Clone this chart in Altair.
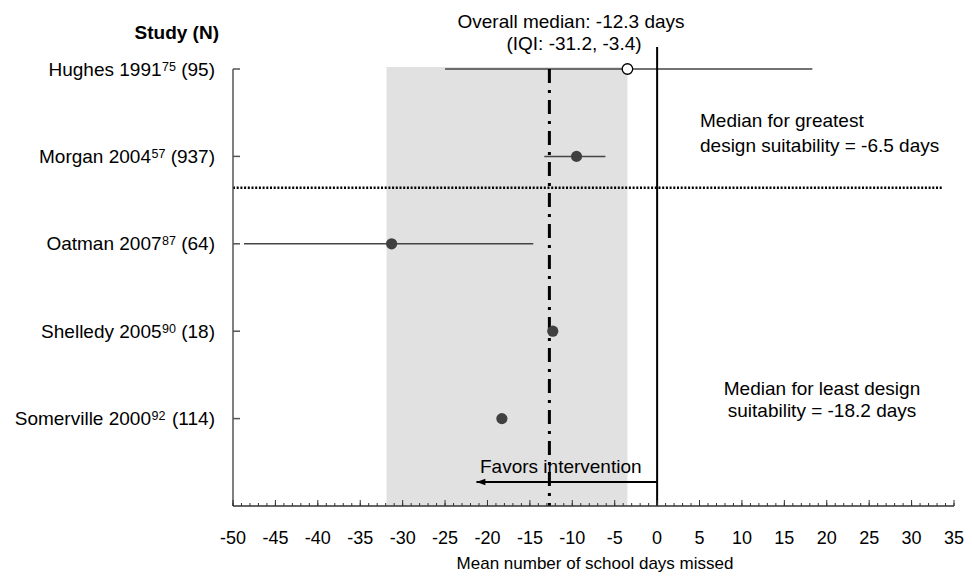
import altair as alt
import pandas as pd

# ---- data ----
names = ["Hughes 1991", "Morgan 2004", "Oatman 2007", "Shelledy 2005", "Somerville 2000"]
refs = ["75", "57", "87", "90", "92"]
ns = ["95", "937", "64", "18", "114"]
rows = [0, 1, 2, 3, 4]
means = [-3.5, -9.5, -31.3, -12.3, -18.3]
ci_lo = [-25.0, -13.3, -48.7, None, None]
ci_hi = [18.3, -6.1, -14.6, None, None]
markers = ["open", "filled", "filled", "filled", "filled"]

overall_median = -12.7
iqi_lo = [-31.9]
iqi_hi = [-3.5]
separator_row = 1.36
arrow_end = -21.3
dotted_end = 33.6
major_ticks = list(range(-50, 36, 5))
tick_labels = ["-50", "-45", "-40", "-35", "-30", "-25", "-20", "-15", "-10", "-5",
               "0", "5", "10", "15", "20", "25", "30", "35"]
minor_ticks = list(range(-50, 36))

FONT = "Liberation Sans"
W, H = 721, 437
LABEL_SIZE, SUP_SIZE = 19, 12.5

# Arial / Liberation Sans advance widths (1/1000 em) used to place superscripts
AW = {' ': 278, '(': 333, ')': 333, 'H': 722, 'M': 833, 'O': 778, 'S': 667,
      'a': 556, 'd': 556, 'e': 556, 'g': 556, 'h': 556, 'i': 222, 'l': 222,
      'm': 833, 'n': 556, 'o': 556, 'r': 333, 's': 500, 't': 278, 'u': 556,
      'v': 500, 'y': 500}
for _d in "0123456789":
    AW[_d] = 556


def tw(s, size):
    return sum(AW.get(c, 556) for c in s) / 1000 * size


tails = [" (" + n + ")" for n in ns]
x_tail = [-18 for _ in tails]
x_sup = [-18 - tw(t, LABEL_SIZE) for t in tails]
x_base = [xs_ - tw(r, SUP_SIZE) - 0.5 for xs_, r in zip(x_sup, refs)]

df = pd.DataFrame({"name": names, "ref": refs, "tail": tails, "row": rows,
                   "mean": means, "lo": ci_lo, "hi": ci_hi, "marker": markers,
                   "x_tail": x_tail, "x_sup": x_sup, "x_base": x_base})
shade_df = pd.DataFrame({"lo": iqi_lo, "hi": iqi_hi})
minor_df = pd.DataFrame({"t": minor_ticks})
major_df = pd.DataFrame({"t": major_ticks, "label": tick_labels})
one = pd.DataFrame({"k": [0]})

xs = alt.Scale(domain=[-50, 35], nice=False, zero=False)
ys = alt.Scale(domain=[5, 0], nice=False, zero=False)
X = lambda f: alt.X(f, scale=xs, axis=None)
Y = lambda f: alt.Y(f, scale=ys, axis=None)

shade = alt.Chart(shade_df).mark_rect(color="#e1e1e1").encode(
    x=X("lo:Q"), x2="hi:Q", y=alt.value(-2), y2=alt.value(H))

# axes lines
y_domain = alt.Chart(one).mark_rule(color="#555555", strokeWidth=1.5).encode(
    x=alt.value(0), y=alt.value(0), y2=alt.value(H))
x_domain = alt.Chart(one).mark_rule(color="#333333", strokeWidth=1.5).encode(
    x=alt.value(0), x2=alt.value(W), y=alt.value(H))
yticks = alt.Chart(df).mark_rule(color="#555555", strokeWidth=1.5).encode(
    y=Y("row:Q"), x=alt.value(0), x2=alt.value(7))
minor = alt.Chart(minor_df).mark_rule(color="#333333", strokeWidth=1).encode(
    x=X("t:Q"), y=alt.value(H), y2=alt.value(H - 3))
major = alt.Chart(major_df).mark_rule(color="#333333", strokeWidth=1).encode(
    x=X("t:Q"), y=alt.value(H), y2=alt.value(H - 6))
xlabels = alt.Chart(major_df).mark_text(align="center", baseline="alphabetic",
                                        font=FONT, fontSize=18, color="black").encode(
    x=X("t:Q"), y=alt.value(H + 37.5), text="label:N")

ci = alt.Chart(df).transform_filter("isValid(datum.lo)").mark_rule(
    color="#444444", strokeWidth=1.5).encode(x=X("lo:Q"), x2="hi:Q", y=Y("row:Q"))

sep = alt.Chart(one).mark_rule(color="black", strokeWidth=2.5, strokeDash=[2, 1.7]).encode(
    x=alt.datum(-50, scale=xs, axis=None), x2=alt.datum(dotted_end),
    y=alt.datum(separator_row, scale=ys, axis=None))

median = alt.Chart(one).mark_rule(color="black", strokeWidth=3,
                                  strokeDash=[14, 7, 3, 7]).encode(
    x=alt.datum(overall_median, scale=xs, axis=None),
    y=alt.value(0), y2=alt.value(H))

zero = alt.Chart(one).mark_rule(color="black", strokeWidth=2).encode(
    x=alt.datum(0, scale=xs, axis=None), y=alt.value(-22), y2=alt.value(H))

arrow = alt.Chart(one).mark_rule(color="black", strokeWidth=2).encode(
    x=alt.datum(0, scale=xs, axis=None), x2=alt.datum(arrow_end), y=alt.value(413))
arrowhead = alt.Chart(one).mark_point(shape="M0,0L2,-0.7L2,0.7Z", filled=True,
                                      color="black", opacity=1, size=80).encode(
    x=alt.datum(arrow_end, scale=xs, axis=None), y=alt.value(413))

dots = alt.Chart(df).transform_filter("datum.marker == 'filled'").mark_point(
    filled=True, color="#404040", opacity=1, size=125).encode(
    x=X("mean:Q"), y=Y("row:Q"))
open_dots = alt.Chart(df).transform_filter("datum.marker == 'open'").mark_point(
    filled=True, fill="white", stroke="black", strokeWidth=1.3, opacity=1,
    size=110).encode(x=X("mean:Q"), y=Y("row:Q"))

lab_base = alt.Chart(df).mark_text(align="right", baseline="alphabetic", dy=6.5,
                                   font=FONT, fontSize=LABEL_SIZE, color="black").encode(
    y=Y("row:Q"), x=alt.X("x_base:Q", scale=None, axis=None), text="name:N")
lab_sup = alt.Chart(df).mark_text(align="right", baseline="alphabetic", dy=1.5,
                                  font=FONT, fontSize=SUP_SIZE, color="black").encode(
    y=Y("row:Q"), x=alt.X("x_sup:Q", scale=None, axis=None), text="ref:N")
lab_tail = alt.Chart(df).mark_text(align="right", baseline="alphabetic", dy=6.5,
                                   font=FONT, fontSize=LABEL_SIZE, color="black").encode(
    y=Y("row:Q"), x=alt.X("x_tail:Q", scale=None, axis=None), text="tail:N")


def note(txt, x, y, align="left", size=19, weight="normal"):
    return alt.Chart(one).mark_text(text=txt, align=align, baseline="alphabetic",
                                    font=FONT, fontSize=size, fontWeight=weight,
                                    color="black").encode(
        x=alt.value(x), y=alt.value(y))


notes = [
    note("Study (N)", -14, -30, align="right", size=19, weight="bold"),
    note("Overall median: -12.3 days", 338, -41, align="center"),
    note("(IQI: -31.2, -3.4)", 341, -19, align="center"),
    note("Median  for greatest", 467, 58),
    note("design suitability = -6.5 days", 467, 83),
    note("Median for least design", 589, 326, align="center"),
    note("suitability = -18.2 days", 589, 348, align="center"),
    note("Favors intervention", 247, 404),
    note("Mean number of school days missed", 362, 500, align="center", size=17),
]

chart = alt.layer(
    shade, ci, sep, median, zero, arrow, arrowhead, dots, open_dots,
    y_domain, x_domain, yticks, minor, major, xlabels,
    lab_base, lab_sup, lab_tail, *notes
).properties(
    width=W, height=H,
    autosize=alt.AutoSizeParams(type="none"),
    padding={"left": 225, "top": 61, "right": 10, "bottom": 67},
    background="white",
).configure_view(stroke=None)

chart.save("out.html", embed_options={"renderer": "svg", "actions": False})
